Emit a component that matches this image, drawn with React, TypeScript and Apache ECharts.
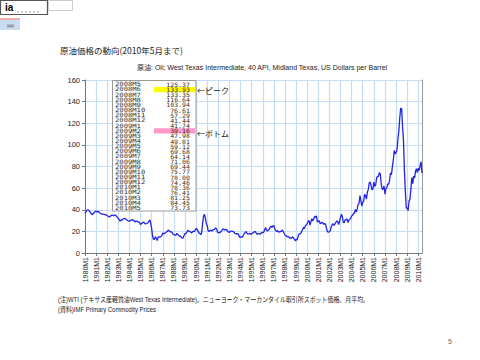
import React, { useEffect, useRef } from "react";
import * as echarts from "echarts";

const years = [1980,1981,1982,1983,1984,1985,1986,1987,1988,1989,1990,1991,1992,1993,1994,1995,1996,1997,1998,1999,2000,2001,2002,2003,2004,2005,2006,2007,2008,2009,2010];

const prices: number[][] = [
  [37.0,38.0,39.5,40.0,39.5,38.5,37.0,36.0,35.5,36.5,37.5,38.5],
  [38.5,38.0,38.5,38.0,37.0,36.5,36.0,36.0,36.0,35.5,35.5,35.0],
  [34.5,34.0,33.5,33.5,34.5,35.0,35.0,34.5,35.0,35.0,34.0,33.0],
  [32.0,30.5,29.5,30.5,30.5,31.5,31.5,32.0,31.5,30.5,30.0,29.5],
  [29.5,30.0,30.5,30.5,30.5,30.0,28.5,29.5,29.5,29.0,28.5,28.0],
  [26.5,27.0,28.0,28.5,28.0,27.0,27.0,27.5,28.0,29.5,30.5,27.5],
  [22.5,15.5,12.5,12.8,15.0,13.5,11.5,15.0,14.8,14.9,15.2,16.1],
  [18.6,17.7,18.3,18.6,19.4,20.0,21.4,20.3,19.5,19.8,18.9,17.3],
  [17.1,16.7,16.2,17.9,17.4,16.5,15.5,15.5,14.5,13.8,14.0,16.3],
  [18.0,17.9,19.4,21.0,20.0,20.0,19.6,18.5,19.6,20.1,19.8,21.1],
  [22.6,22.1,20.4,18.6,18.2,16.9,18.6,27.2,33.7,35.9,32.3,27.3],
  [25.2,20.5,19.9,20.8,21.2,20.2,21.4,21.7,21.9,23.2,22.5,19.5],
  [18.8,19.0,18.9,20.2,20.9,22.4,21.8,21.4,21.9,21.7,20.3,19.4],
  [19.1,20.1,20.3,20.3,19.9,19.1,17.9,18.0,17.5,18.1,16.7,14.5],
  [15.0,14.8,14.7,16.4,17.9,19.1,19.7,18.4,17.5,17.7,18.1,17.2],
  [18.0,18.5,18.6,19.9,19.7,18.4,17.3,17.9,18.0,17.4,18.0,19.0],
  [18.9,19.1,21.3,23.5,21.2,20.4,21.3,21.9,23.9,24.9,23.7,25.2],
  [25.1,22.2,20.9,19.7,20.8,19.2,19.6,19.9,19.8,21.3,20.2,18.3],
  [16.7,16.1,15.0,15.4,14.9,13.7,14.1,13.4,15.0,14.4,12.9,11.3],
  [12.5,12.0,14.7,17.3,17.8,17.9,20.1,21.3,23.9,22.6,25.0,26.1],
  [27.2,29.4,29.9,25.7,28.8,31.8,29.7,31.2,33.9,33.1,34.4,28.5],
  [29.6,29.6,27.2,27.4,28.6,27.6,26.4,27.4,26.2,22.2,19.6,19.4],
  [19.7,20.7,24.4,26.2,27.0,25.5,26.9,28.4,29.7,28.9,26.3,29.4],
  [32.9,35.9,33.5,28.3,28.1,30.7,30.8,31.6,28.3,30.3,31.1,32.1],
  [34.3,34.7,36.8,36.7,40.3,38.0,40.8,44.9,45.9,53.1,48.5,43.3],
  [46.8,48.0,54.3,53.0,49.8,56.3,58.7,64.9,65.6,62.3,58.3,59.4],
  [65.5,61.6,62.9,69.7,70.9,70.9,74.4,73.0,63.8,58.9,59.1,62.0],
  [54.5,59.3,60.4,63.9,63.5,67.5,74.1,72.4,79.9,85.8,94.8,91.7],
  [93.0,95.4,105.4,112.6,125.37,133.93,133.35,116.64,103.94,76.61,57.29,41.44],
  [41.74,39.16,47.98,49.81,59.12,69.68,64.14,71.06,69.44,75.77,78.00,74.46],
  [78.36,76.41,81.25,84.45,73.73],
];

const yTicks = { min: 0, max: 160, interval: 20 };
const tableRowCount = 25;

const titleText = "原油価格の動向(2010年5月まで)";
const subtitleText = "原油: Oil; West Texas Intermediate, 40 API, Midland Texas, US Dollars per Barrel";
const noteLine1 = "(注)WTI (テキサス産軽質油West Texas Intermediate)。ニューヨーク・マーカンタイル取引所スポット価格。月平均。";
const noteLine2 = "(資料)IMF Primary Commodity Prices";
const peakText = "←ピーク";
const bottomText = "←ボトム";

const categories: string[] = years.flatMap((y, i) => prices[i].map((_, m) => `${y}M${m + 1}`));
const values: number[] = prices.flat();

export default function App() {
  const ref = useRef<HTMLDivElement>(null);
  useEffect(() => {
    if (!ref.current) return;
    const chart = echarts.init(ref.current, undefined, { renderer: "svg" });
    const isJan = (i: number) => categories[i].endsWith("M1");

    const tLabels = categories.slice(-tableRowCount);
    const tValues = values.slice(-tableRowCount);
    const peakIdx = tValues.indexOf(Math.max(...tValues));
    const bottomIdx = tValues.indexOf(Math.min(...tValues));
    const row0 = 84.5;
    const pitch = 5.15;
    const mono = "DejaVu Sans Mono";

    const graphic: any[] = [];
    // top-left artifacts
    graphic.push({ type: "rect", shape: { x: 0.5, y: 0.5, width: 47, height: 14 }, style: { fill: "#fff", stroke: "#555", lineWidth: 1.2 }, z: 100 });
    graphic.push({ type: "text", x: 5, y: 7.5, style: { text: "ia", fontSize: 10, fontWeight: "bold", fontFamily: "Liberation Sans", fill: "#000", verticalAlign: "middle" }, z: 101 });
    graphic.push({ type: "line", shape: { x1: 17, y1: 12, x2: 40, y2: 12 }, style: { stroke: "#999", lineDash: [2, 2], lineWidth: 1 }, z: 101 });
    graphic.push({ type: "rect", shape: { x: 48.5, y: 0.5, width: 24, height: 10 }, style: { fill: "#fff", stroke: "#ccc", lineWidth: 1 }, z: 100 });
    graphic.push({ type: "line", shape: { x1: 0, y1: 19, x2: 20, y2: 19 }, style: { stroke: "#e06060", lineWidth: 1 }, z: 100 });
    graphic.push({ type: "rect", shape: { x: 0, y: 20, width: 20, height: 10 }, style: { fill: "#c9dcf2" }, z: 100 });
    graphic.push({ type: "rect", shape: { x: 7, y: 24.5, width: 7, height: 3 }, style: { fill: "#a0a0a8" }, z: 101 });

    // texts
    graphic.push({ type: "text", x: 60, y: 50, style: { text: titleText, fontSize: 8.5, fontFamily: "Noto Sans CJK JP", fill: "#222", verticalAlign: "middle" }, z: 100 });
    graphic.push({ type: "text", x: 137, y: 67, style: { text: subtitleText, fontSize: 7, fontFamily: "Liberation Sans, Noto Sans CJK JP", fill: "#222", verticalAlign: "middle" }, z: 100 });
    graphic.push({ type: "text", x: 58, y: 299, scaleX: 0.85, style: { text: noteLine1, fontSize: 7, fontFamily: "Liberation Sans, Noto Sans CJK JP", fill: "#222", verticalAlign: "middle" }, z: 100 });
    graphic.push({ type: "text", x: 58, y: 309.5, scaleX: 0.85, style: { text: noteLine2, fontSize: 7, fontFamily: "Liberation Sans, Noto Sans CJK JP", fill: "#222", verticalAlign: "middle" }, z: 100 });
    graphic.push({ type: "text", x: 448, y: 341, style: { text: "5", fontSize: 7, fontFamily: "Liberation Sans", fill: "#666", verticalAlign: "middle" }, z: 100 });

    // table
    graphic.push({ type: "rect", shape: { x: 112.5, y: 80.5, width: 83.5, height: 130.5 }, style: { fill: "#fff", stroke: "#999", lineWidth: 1 }, z: 100 });
    graphic.push({ type: "rect", shape: { x: 154, y: row0 + peakIdx * pitch - 2.7, width: 41, height: 5.4 }, style: { fill: "#ffff00" }, z: 101 });
    graphic.push({ type: "rect", shape: { x: 154, y: row0 + bottomIdx * pitch - 2.7, width: 41, height: 5.4 }, style: { fill: "#ff99cc" }, z: 101 });
    tLabels.forEach((lab, i) => {
      const y = row0 + i * pitch;
      graphic.push({ type: "text", x: 115, y, scaleX: 1.2, style: { text: lab, fontSize: 6, fontFamily: mono, fill: "#333", verticalAlign: "middle" }, z: 102 });
      graphic.push({ type: "text", x: 190, y, scaleX: 1.1, style: { text: tValues[i].toFixed(2), fontSize: 6, fontFamily: mono, fill: "#333", align: "right", verticalAlign: "middle" }, z: 102 });
    });
    graphic.push({ type: "text", x: 197, y: row0 + peakIdx * pitch + 0.5, style: { text: peakText, fontSize: 8, fontFamily: "Noto Sans CJK JP", fill: "#222", verticalAlign: "middle" }, z: 102 });
    graphic.push({ type: "text", x: 197, y: row0 + bottomIdx * pitch + 3, style: { text: bottomText, fontSize: 8, fontFamily: "Noto Sans CJK JP", fill: "#222", verticalAlign: "middle" }, z: 102 });

    const gridColor = "#c4def8";
    chart.setOption({
      animation: false,
      backgroundColor: "#fff",
      grid: { left: 85, top: 80, width: 337, height: 173, containLabel: false },
      xAxis: {
        type: "category",
        data: categories,
        boundaryGap: false,
        axisLine: { lineStyle: { color: "#777", width: 1 } },
        axisTick: { show: true, interval: isJan, length: 3, lineStyle: { color: "#777" } },
        axisLabel: { interval: isJan, rotate: 90, fontSize: 7, color: "#222", fontFamily: "Liberation Sans", margin: 4 },
        splitLine: { show: true, interval: isJan, lineStyle: { color: gridColor, width: 1.2 } },
      },
      yAxis: [
        {
          type: "value",
          min: yTicks.min,
          max: yTicks.max,
          interval: yTicks.interval,
          axisLine: { show: true, lineStyle: { color: "#777" } },
          axisTick: { show: true, length: 3, lineStyle: { color: "#777" } },
          axisLabel: { fontSize: 7.5, color: "#222", fontFamily: "Liberation Sans", margin: 5 },
          splitLine: { show: true, lineStyle: { color: gridColor, width: 1.2 } },
        },
        {
          type: "value",
          min: yTicks.min,
          max: yTicks.max,
          interval: yTicks.interval,
          position: "right",
          axisLine: { show: true, lineStyle: { color: "#999" } },
          axisTick: { show: false },
          axisLabel: { show: false },
          splitLine: { show: false },
        },
      ],
      series: [
        {
          type: "line",
          data: values,
          showSymbol: false,
          lineStyle: { color: "#2323e6", width: 1.3 },
          itemStyle: { color: "#2323e6" },
          z: 3,
        },
      ],
      graphic,
    });
    return () => chart.dispose();
  }, []);
  return <div ref={ref} style={{ position: "fixed", left: 0, top: 0, width: 480, height: 360, background: "#fff" }} />;
}
